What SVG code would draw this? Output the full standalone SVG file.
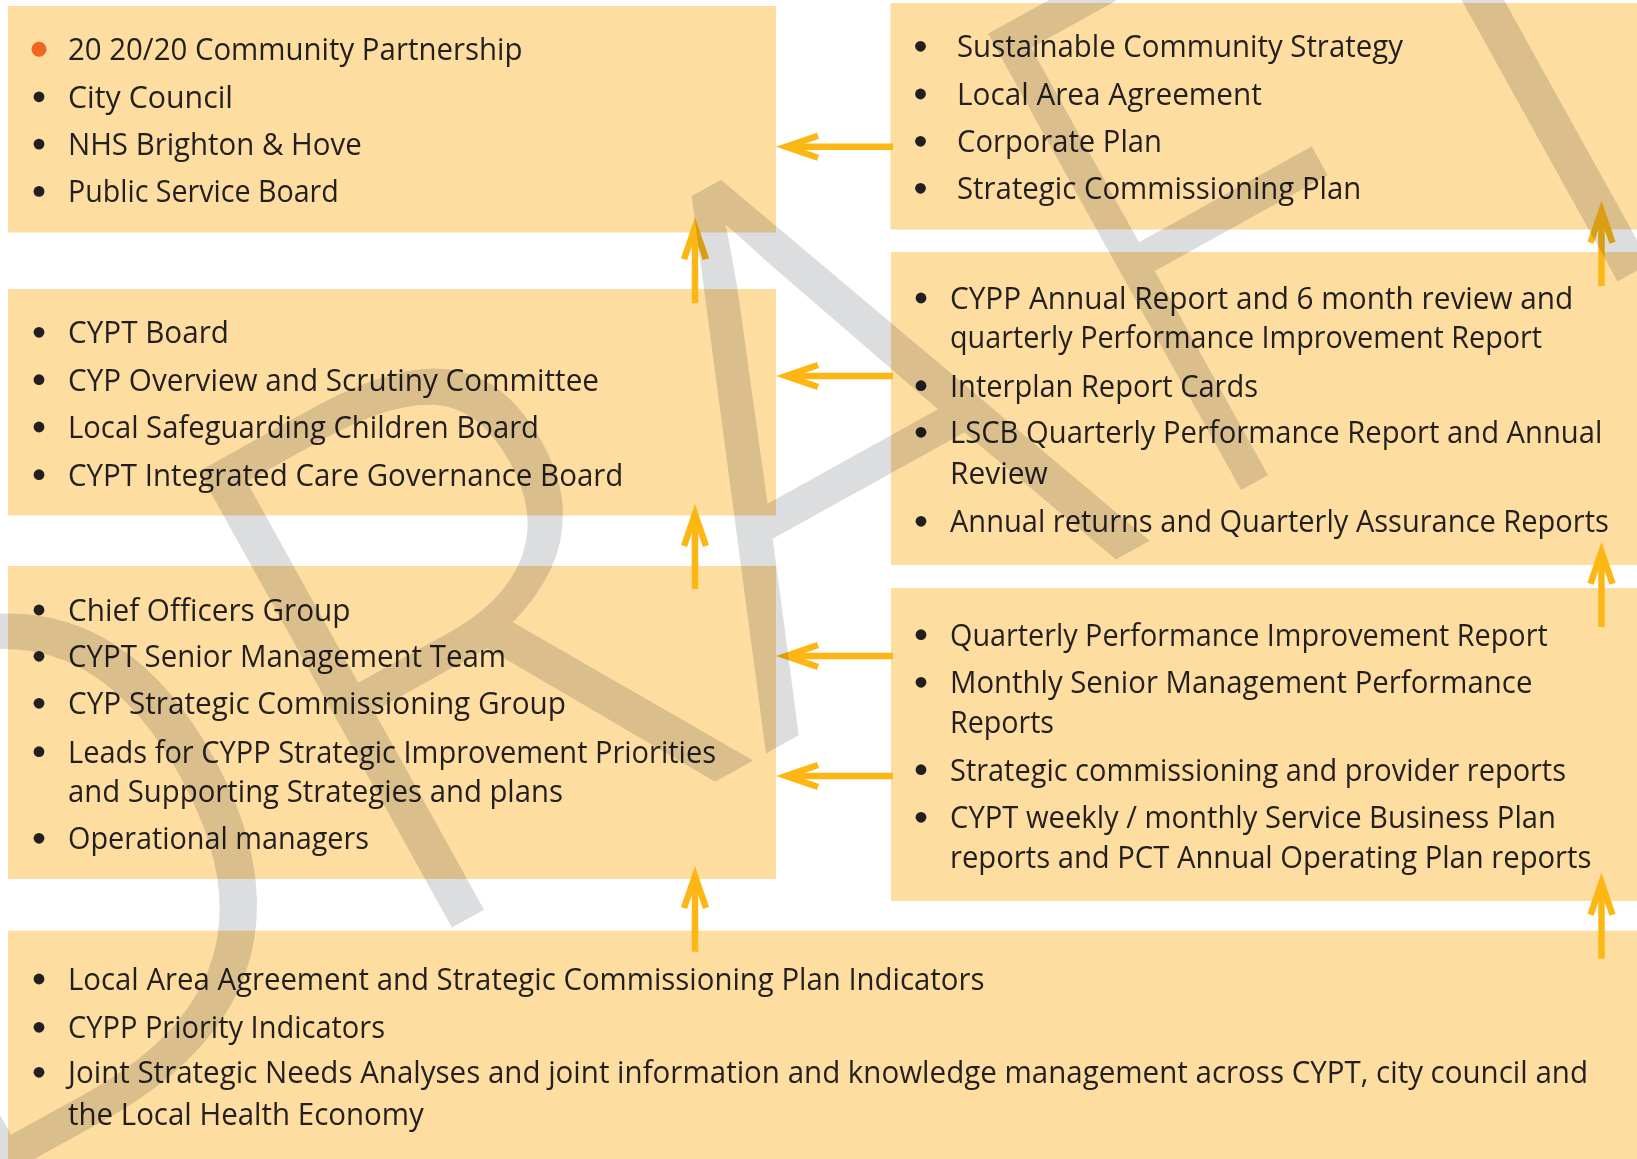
<svg xmlns="http://www.w3.org/2000/svg" width="1637" height="1159" viewBox="0 0 1637 1159">
<style>
.box{fill:#FDDDA0}
.t{font-family:"Open Sans","Noto Sans","Liberation Sans",sans-serif;font-size:30.5px;font-weight:400;fill:#231F20}
.b{fill:#231F20}
.arr{stroke:#FDB714;stroke-width:6.5;fill:none;marker-end:url(#ah)}
.wm{font-family:"Open Sans","Noto Sans","Liberation Sans",sans-serif;font-size:731px;font-weight:300;fill:#DCDDDF;text-anchor:middle}
</style>
<defs>
<marker id="ah" markerUnits="userSpaceOnUse" viewBox="-40 -16 56 32" refX="0" refY="0" markerWidth="56" markerHeight="32" orient="auto" overflow="visible">
<path d="M -32,-11 L 0,0 L -32,11" fill="none" stroke="#FDB714" stroke-width="6.5" stroke-linejoin="miter" stroke-miterlimit="10"/>
</marker>
</defs>
<rect x="0" y="0" width="1637" height="1159" fill="#FFFFFF"/>

<g id="box-a">
<rect class="box" x="8" y="6" width="768" height="226.5"/>
<circle cx="39" cy="49.3" r="7.5" fill="#F26522"/>
<circle class="b" cx="39" cy="96.8" r="5.4"/>
<circle class="b" cx="39" cy="144.1" r="5.4"/>
<circle class="b" cx="39" cy="191.4" r="5.4"/>
<text class="t" x="68" y="60" textLength="454.4" lengthAdjust="spacingAndGlyphs">20 20/20 Community Partnership</text>
<text class="t" x="68" y="107.7" textLength="165" lengthAdjust="spacingAndGlyphs">City Council</text>
<text class="t" x="68" y="155" textLength="293.7" lengthAdjust="spacingAndGlyphs">NHS Brighton &amp; Hove</text>
<text class="t" x="68" y="202.3" textLength="270.8" lengthAdjust="spacingAndGlyphs">Public Service Board</text>
</g>

<g id="box-b">
<rect class="box" x="890.5" y="3" width="746.5" height="226.5"/>
<circle class="b" cx="920.5" cy="46.3" r="5.4"/>
<circle class="b" cx="920.5" cy="94" r="5.4"/>
<circle class="b" cx="920.5" cy="141.3" r="5.4"/>
<circle class="b" cx="920.5" cy="188.3" r="5.4"/>
<text class="t" x="957" y="57.3" textLength="445.9" lengthAdjust="spacingAndGlyphs">Sustainable Community Strategy</text>
<text class="t" x="957" y="105" textLength="304.9" lengthAdjust="spacingAndGlyphs">Local Area Agreement</text>
<text class="t" x="957" y="152.3" textLength="204.9" lengthAdjust="spacingAndGlyphs">Corporate Plan</text>
<text class="t" x="957" y="199.3" textLength="404.3" lengthAdjust="spacingAndGlyphs">Strategic Commissioning Plan</text>
</g>

<g id="box-c">
<rect class="box" x="8" y="289" width="768" height="226.5"/>
<circle class="b" cx="39" cy="332.3" r="5.4"/>
<circle class="b" cx="39" cy="379.7" r="5.4"/>
<circle class="b" cx="39" cy="427" r="5.4"/>
<circle class="b" cx="39" cy="474.7" r="5.4"/>
<text class="t" x="68" y="343.3" textLength="161" lengthAdjust="spacingAndGlyphs">CYPT Board</text>
<text class="t" x="68" y="390.7" textLength="531" lengthAdjust="spacingAndGlyphs">CYP Overview and Scrutiny Committee</text>
<text class="t" x="68" y="438" textLength="471" lengthAdjust="spacingAndGlyphs">Local Safeguarding Children Board</text>
<text class="t" x="68" y="485.7" textLength="555.4" lengthAdjust="spacingAndGlyphs">CYPT Integrated Care Governance Board</text>
</g>

<g id="box-d">
<rect class="box" x="891" y="252" width="746" height="313"/>
<circle class="b" cx="921" cy="298" r="5.4"/>
<circle class="b" cx="921" cy="385.7" r="5.4"/>
<circle class="b" cx="921" cy="432.3" r="5.4"/>
<circle class="b" cx="921" cy="521.3" r="5.4"/>
<text class="t" x="950" y="309" textLength="623.3" lengthAdjust="spacingAndGlyphs">CYPP Annual Report and 6 month review and</text>
<text class="t" x="950" y="348.3" textLength="592" lengthAdjust="spacingAndGlyphs">quarterly Performance Improvement Report</text>
<text class="t" x="950" y="396.7" textLength="308" lengthAdjust="spacingAndGlyphs">Interplan Report Cards</text>
<text class="t" x="950" y="443.3" textLength="652.3" lengthAdjust="spacingAndGlyphs">LSCB Quarterly Performance Report and Annual</text>
<text class="t" x="950" y="484.3" textLength="97.7" lengthAdjust="spacingAndGlyphs">Review</text>
<text class="t" x="950" y="532.3" textLength="658.9" lengthAdjust="spacingAndGlyphs">Annual returns and Quarterly Assurance Reports</text>
</g>

<g id="box-e">
<rect class="box" x="8" y="566" width="768" height="313"/>
<circle class="b" cx="39" cy="610" r="5.4"/>
<circle class="b" cx="39" cy="656.3" r="5.4"/>
<circle class="b" cx="39" cy="703.3" r="5.4"/>
<circle class="b" cx="39" cy="751.7" r="5.4"/>
<circle class="b" cx="39" cy="838.3" r="5.4"/>
<text class="t" x="68" y="621" textLength="282.5" lengthAdjust="spacingAndGlyphs">Chief Officers Group</text>
<text class="t" x="68" y="667.3" textLength="438" lengthAdjust="spacingAndGlyphs">CYPT Senior Management Team</text>
<text class="t" x="68" y="714.3" textLength="498" lengthAdjust="spacingAndGlyphs">CYP Strategic Commissioning Group</text>
<text class="t" x="68" y="762.7" textLength="648" lengthAdjust="spacingAndGlyphs">Leads for CYPP Strategic Improvement Priorities</text>
<text class="t" x="68" y="802.3" textLength="495" lengthAdjust="spacingAndGlyphs">and Supporting Strategies and plans</text>
<text class="t" x="68" y="849.3" textLength="301" lengthAdjust="spacingAndGlyphs">Operational managers</text>
</g>

<g id="box-f">
<rect class="box" x="891" y="588" width="746" height="313"/>
<circle class="b" cx="921" cy="634.7" r="5.4"/>
<circle class="b" cx="921" cy="682.3" r="5.4"/>
<circle class="b" cx="921" cy="769.7" r="5.4"/>
<circle class="b" cx="921" cy="817.3" r="5.4"/>
<text class="t" x="950" y="645.7" textLength="597.7" lengthAdjust="spacingAndGlyphs">Quarterly Performance Improvement Report</text>
<text class="t" x="950" y="693.3" textLength="582.4" lengthAdjust="spacingAndGlyphs">Monthly Senior Management Performance</text>
<text class="t" x="950" y="733.3" textLength="104" lengthAdjust="spacingAndGlyphs">Reports</text>
<text class="t" x="950" y="780.7" textLength="616" lengthAdjust="spacingAndGlyphs">Strategic commissioning and provider reports</text>
<text class="t" x="950" y="828.3" textLength="605.9" lengthAdjust="spacingAndGlyphs">CYPT weekly / monthly Service Business Plan</text>
<text class="t" x="950" y="867.7" textLength="641.4" lengthAdjust="spacingAndGlyphs">reports and PCT Annual Operating Plan reports</text>
</g>

<g id="box-g">
<rect class="box" x="8" y="930.7" width="1629" height="228.3"/>
<circle class="b" cx="39" cy="979" r="5.4"/>
<circle class="b" cx="39" cy="1027.3" r="5.4"/>
<circle class="b" cx="39" cy="1072.3" r="5.4"/>
<text class="t" x="68" y="990" textLength="916.5" lengthAdjust="spacingAndGlyphs">Local Area Agreement and Strategic Commissioning Plan Indicators</text>
<text class="t" x="68" y="1038.3" textLength="317" lengthAdjust="spacingAndGlyphs">CYPP Priority Indicators</text>
<text class="t" x="68" y="1083.3" textLength="1520" lengthAdjust="spacingAndGlyphs">Joint Strategic Needs Analyses and joint information and knowledge management across CYPT, city council and</text>
<text class="t" x="68" y="1125" textLength="355.8" lengthAdjust="spacingAndGlyphs">the Local Health Economy</text>
</g>

<g id="connectors">
<path class="arr" d="M 893,146.7 L 786,146.7"/>
<path class="arr" d="M 893,376 L 786,376"/>
<path class="arr" d="M 893,656 L 786,656"/>
<path class="arr" d="M 893,776 L 786,776"/>
<path class="arr" d="M 695,303.3 L 695,227.3"/>
<path class="arr" d="M 695,589 L 695,514"/>
<path class="arr" d="M 695,951.7 L 695,876"/>
<path class="arr" d="M 1601.5,286 L 1601.5,210.7"/>
<path class="arr" d="M 1601.5,627 L 1601.5,551.7"/>
<path class="arr" d="M 1601.5,958.7 L 1601.5,882.7"/>
</g>

<g id="watermark" style="mix-blend-mode:multiply">
<text class="wm" transform="translate(958,647) rotate(-29)"><tspan x="-917" y="0">D</tspan><tspan x="-435" y="0">R</tspan><tspan x="0" y="0">A</tspan><tspan x="773" y="0">T</tspan></text>
<text class="wm" transform="translate(958,647) rotate(-29) translate(338,0) scale(0.84,1)"><tspan x="93" y="0">F</tspan></text>
</g>
</svg>
